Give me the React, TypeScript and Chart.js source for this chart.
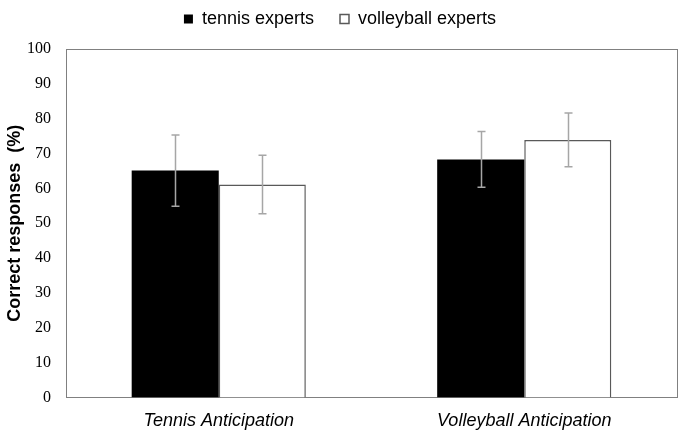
import { useEffect, useRef } from 'react'
import { Chart, registerables } from 'chart.js'
import type { Plugin } from 'chart.js'

Chart.register(...registerables)

const categories = ['Tennis Anticipation', 'Volleyball Anticipation']
const tennisExperts = [65.1, 68.3]
const tennisErr = [10.2, 8.0]
const volleyballExperts = [61.1, 73.9]
const volleyballErr = [8.4, 7.7]

const sans = '"Liberation Sans", Arial, sans-serif'
const serif = '"Liberation Serif", "Times New Roman", serif'

// grey whiskers on top of each bar
const errorBars: Plugin<'bar'> = {
  id: 'errorBars',
  afterDatasetsDraw(chart) {
    const { ctx } = chart
    const y = chart.scales.y
    const errs = [tennisErr, volleyballErr]
    ctx.save()
    ctx.strokeStyle = '#a6a6a6'
    ctx.lineWidth = 1.5
    chart.data.datasets.forEach((ds, i) => {
      chart.getDatasetMeta(i).data.forEach((bar, j) => {
        const v = ds.data[j] as number
        const e = errs[i][j]
        const x = Math.round(bar.x) + 0.5
        const top = y.getPixelForValue(v + e)
        const bot = y.getPixelForValue(v - e)
        ctx.beginPath()
        ctx.moveTo(x, top); ctx.lineTo(x, bot)
        ctx.moveTo(x - 4, top); ctx.lineTo(x + 4, top)
        ctx.moveTo(x - 4, bot); ctx.lineTo(x + 4, bot)
        ctx.stroke()
      })
    })
    ctx.restore()
  },
}

// plot area box
const frame: Plugin<'bar'> = {
  id: 'frame',
  beforeDatasetsDraw(chart) {
    const { ctx, chartArea: a } = chart
    ctx.save()
    ctx.strokeStyle = '#808080'
    ctx.lineWidth = 1
    ctx.strokeRect(Math.round(a.left) + 0.5, Math.round(a.top) + 0.5, Math.round(a.right - a.left), Math.round(a.bottom - a.top))
    ctx.restore()
  },
}

export default function App() {
  const canvasRef = useRef<HTMLCanvasElement>(null)
  const chartRef = useRef<Chart | null>(null)

  useEffect(() => {
    if (!canvasRef.current) return
    if (chartRef.current) chartRef.current.destroy()

    chartRef.current = new Chart(canvasRef.current, {
      type: 'bar',
      data: {
        labels: categories,
        datasets: [
          {
            label: 'tennis experts',
            data: tennisExperts,
            backgroundColor: '#000000',
            borderColor: '#000000',
            borderWidth: 0,
          },
          {
            label: 'volleyball experts',
            data: volleyballExperts,
            backgroundColor: '#ffffff',
            borderColor: '#595959',
            borderWidth: 1.5,
            borderSkipped: 'bottom',
          },
        ],
      },
      options: {
        animation: false,
        responsive: false,
        devicePixelRatio: 1,
        layout: { padding: { left: 3, right: 3, top: -16, bottom: -7 } },
        datasets: { bar: { categoryPercentage: 0.57, barPercentage: 1 } },
        plugins: {
          legend: {
            position: 'top',
            labels: {
              boxWidth: 9,
              boxHeight: 9,
              padding: 26,
              color: '#000',
              font: { family: sans, size: 18 },
            },
          },
          // blank spacer between legend and plot
          title: {
            display: true,
            text: ' ',
            position: 'top',
            weight: 500,
            padding: 0,
            font: { size: 11, lineHeight: 1 },
          },
          tooltip: { enabled: false },
        },
        scales: {
          x: {
            grid: { display: false, drawTicks: false },
            border: { display: false },
            ticks: {
              color: '#000',
              padding: 13,
              font: { family: sans, size: 18, style: 'italic' },
            },
          },
          y: {
            min: 0,
            max: 100,
            afterFit: scale => { scale.width = 63 },
            grid: { display: false, drawTicks: false },
            border: { display: false },
            ticks: {
              stepSize: 10,
              color: '#000',
              padding: 15,
              font: { family: serif, size: 16 },
            },
            title: {
              display: true,
              text: 'Correct responses  (%)',
              color: '#000',
              padding: { top: 1, bottom: 1 },
              font: { family: sans, size: 18, weight: 'bold' },
            },
          },
        },
      },
      plugins: [frame, errorBars],
    })

    return () => { chartRef.current?.destroy() }
  }, [])

  return (
    <div style={{ position: 'fixed', left: 0, top: 0, width: 680, height: 438, background: '#fff' }}>
      <canvas ref={canvasRef} width={680} height={438} role="img" aria-label="Correct responses bar chart" />
    </div>
  )
}
